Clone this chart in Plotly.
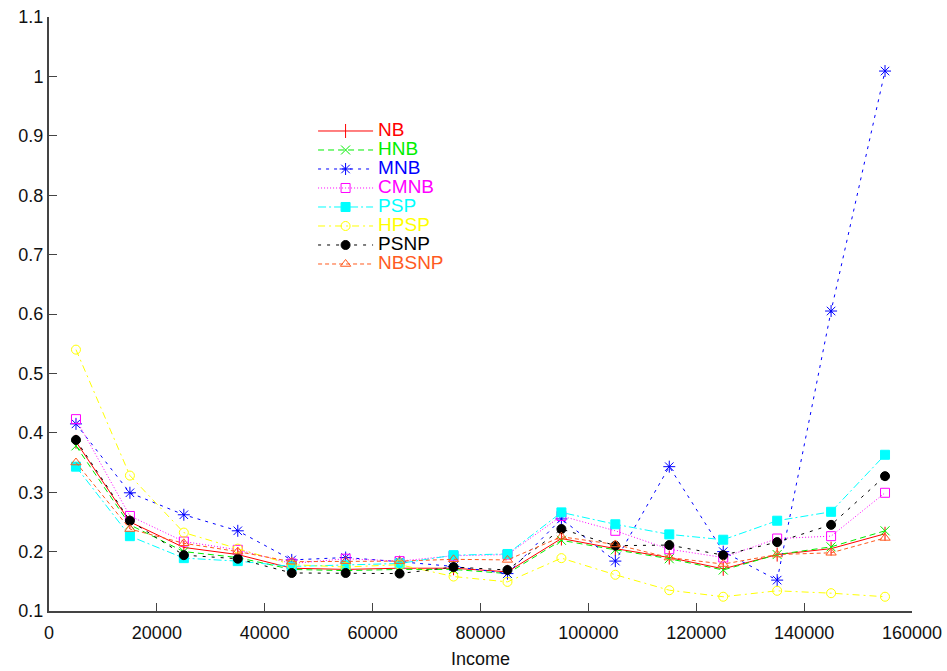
import plotly.graph_objects as go

income = [5000, 15000, 25000, 35000, 45000, 55000, 65000, 75000,
          85000, 95000, 105000, 115000, 125000, 135000, 145000, 155000]

NB    = [0.385, 0.250, 0.207, 0.195, 0.172, 0.170, 0.172, 0.172, 0.166, 0.222, 0.205, 0.190, 0.171, 0.195, 0.205, 0.230]
HNB   = [0.378, 0.245, 0.200, 0.190, 0.170, 0.168, 0.170, 0.170, 0.163, 0.219, 0.203, 0.188, 0.169, 0.195, 0.208, 0.235]
MNB   = [0.415, 0.299, 0.262, 0.235, 0.186, 0.190, 0.183, 0.175, 0.163, 0.255, 0.184, 0.343, 0.200, 0.152, 0.605, 1.009]
CMNB  = [0.423, 0.260, 0.217, 0.203, 0.180, 0.188, 0.184, 0.193, 0.195, 0.260, 0.235, 0.204, 0.190, 0.222, 0.226, 0.299]
PSP   = [0.343, 0.226, 0.189, 0.184, 0.175, 0.177, 0.180, 0.194, 0.196, 0.266, 0.246, 0.229, 0.220, 0.252, 0.267, 0.363]
HPSP  = [0.540, 0.328, 0.232, 0.205, 0.178, 0.174, 0.178, 0.158, 0.149, 0.189, 0.161, 0.135, 0.124, 0.134, 0.130, 0.124]
PSNP  = [0.388, 0.252, 0.194, 0.188, 0.164, 0.164, 0.163, 0.174, 0.169, 0.238, 0.210, 0.211, 0.194, 0.216, 0.245, 0.327]
NBSNP = [0.350, 0.238, 0.214, 0.200, 0.183, 0.184, 0.184, 0.187, 0.186, 0.225, 0.212, 0.190, 0.179, 0.195, 0.198, 0.223]

series_names = ["NB", "HNB", "MNB", "CMNB", "PSP", "HPSP", "PSNP", "NBSNP"]
series_values = [NB, HNB, MNB, CMNB, PSP, HPSP, PSNP, NBSNP]
colors = ["#ff0000", "#00ee00", "#0000ff", "#ff00ff", "#00ffff", "#ffff00", "#000000", "#ff5a1e"]
dashes = ["solid", "6px,4px", "3px,5px", "1px,2px", "8px,3px,2px,3px", "7px,4px,2px,4px", "3px,6px", "4px,3px"]
symbols = ["line-ns-open", "x-thin-open", "asterisk-open", "square-open", "square",
           "circle-open", "circle", "triangle-up-open"]
sizes = [10, 9, 10, 9, 9, 9, 9, 9]

FONT = "Liberation Sans, Arial, sans-serif"
TXT = "#111111"

fig = go.Figure()
for name, vals, c, d, s, sz in zip(series_names, series_values, colors, dashes, symbols, sizes):
    fig.add_trace(go.Scatter(
        x=income, y=vals, mode="lines+markers",
        name=f"<span style='color:{c};font-size:19px'>{name}</span>",
        line=dict(color=c, width=1, dash=d),
        marker=dict(symbol=s, size=sz, color=c, line=dict(color=c, width=1)),
    ))

axis_col = "#444444"
fig.update_layout(
    width=947, height=671,
    margin=dict(l=49, r=35, t=17, b=60, autoexpand=False),
    paper_bgcolor="white", plot_bgcolor="white",
    font=dict(family=FONT, size=18, color=TXT),
    showlegend=True,
    legend=dict(
        x=0.306, y=0.8325, xanchor="left", yanchor="top",
        bgcolor="rgba(0,0,0,0)", borderwidth=0,
        font=dict(family=FONT, size=12),
        itemwidth=55, tracegroupgap=0,
    ),
    xaxis=dict(
        range=[0, 160000], dtick=20000, tick0=0, tickformat="d",
        showgrid=False, zeroline=False, automargin=False,
        showline=True, linecolor=axis_col, linewidth=2,
        ticks="inside", ticklen=8, tickcolor=axis_col, tickwidth=1,
        ticklabelstandoff=4, ticklabeloverflow="allow",
        tickfont=dict(family=FONT, size=18, color=TXT),
        title=dict(text="Income", font=dict(family=FONT, size=18, color=TXT), standoff=11),
    ),
    yaxis=dict(
        range=[0.1, 1.1], dtick=0.1, tick0=0,
        showgrid=False, zeroline=False, automargin=False,
        showline=True, linecolor=axis_col, linewidth=2,
        ticks="inside", ticklen=8, tickcolor=axis_col, tickwidth=1,
        ticklabeloverflow="allow",
        tickfont=dict(family=FONT, size=18, color=TXT),
    ),
)

# remove the default page margin/scrollbars so the figure fills the window exactly
page_fix = ("document.documentElement.style.overflow='hidden';"
            "document.body.style.margin='0';"
            "document.body.style.overflow='hidden';")

fig.write_html("out.html", post_script=page_fix, config={"displayModeBar": False})
